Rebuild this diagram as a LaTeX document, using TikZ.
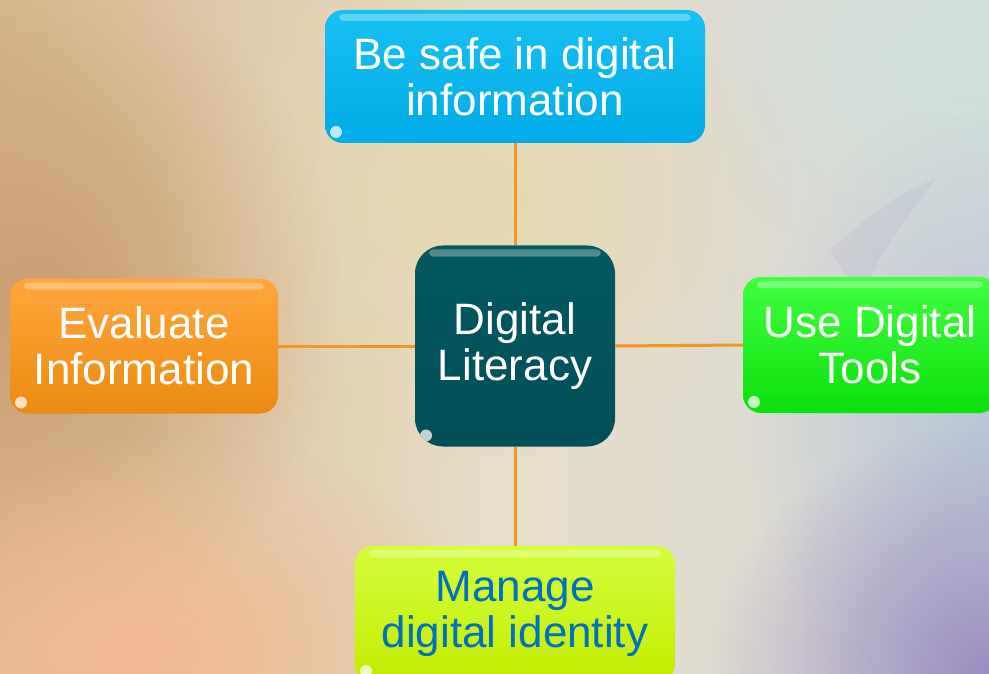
\documentclass[tikz,border=0pt]{standalone}
\usepackage{fontspec}
\setmainfont{Liberation Sans}
\usetikzlibrary{fadings}
\tikzfading[name=softblob, inner color=transparent!0, outer color=transparent!100]
\definecolor{bgL}{HTML}{D8B890}
\definecolor{bgM}{HTML}{E8DEC8}
\definecolor{bgR}{HTML}{D6DADC}
\definecolor{tanD}{HTML}{CA9E74}
\definecolor{peach}{HTML}{F2BA94}
\definecolor{lilac}{HTML}{9A8CC0}
\definecolor{bluey}{HTML}{B8C6D6}
\definecolor{mint}{HTML}{D2E2DC}
\definecolor{creamY}{HTML}{E6D8B0}
\definecolor{lineO}{HTML}{F39426}
\definecolor{cyanT}{HTML}{18C0F2}
\definecolor{cyanB}{HTML}{00ACE8}
\definecolor{tealT}{HTML}{04585F}
\definecolor{tealB}{HTML}{014F59}
\definecolor{orT}{HTML}{FFA63C}
\definecolor{orB}{HTML}{EC8A10}
\definecolor{grT}{HTML}{40FF40}
\definecolor{grB}{HTML}{0CE00C}
\definecolor{ygT}{HTML}{D4FF3C}
\definecolor{ygB}{HTML}{C2EC00}
\definecolor{blueTx}{HTML}{0070C0}
\tikzset{
  box/.style={rectangle, rounded corners=18pt, align=center, text=white,
    font=\fontsize{44}{46}\selectfont, inner sep=0pt,
    path picture={
      \fill[white,opacity=0.3,rounded corners=4pt]
        ([xshift=14pt,yshift=-4pt]path picture bounding box.north west)
        rectangle ([xshift=-14pt,yshift=-11pt]path picture bounding box.north east);
      \fill[white,opacity=0.75]
        ([xshift=11pt,yshift=11pt]path picture bounding box.south west) circle (6pt);
    }},
  conn/.style={draw=lineO, line width=3pt}
}
\begin{document}
\begin{tikzpicture}[x=1pt,y=-1pt]
\useasboundingbox (0,0) rectangle (989,674);
\begin{scope}
\clip (0,0) rectangle (989,674);
% background
\shade[left color=bgL, right color=bgR, middle color=bgM] (0,0) rectangle (989,674);
\fill[creamY, path fading=softblob] (470,200) ellipse (320 and 260);
\fill[tanD, path fading=softblob] (40,300) ellipse (300 and 340);
\fill[peach, path fading=softblob] (140,650) ellipse (360 and 220);
\fill[mint, path fading=softblob] (960,60) ellipse (280 and 220);
\fill[bluey, path fading=softblob] (989,420) ellipse (240 and 320);
\fill[lilac, path fading=softblob] (989,674) ellipse (280 and 250);
\fill[lilac!60!bgR, opacity=0.2] (830,250) .. controls (870,215) and (900,190) .. (935,180)
  .. controls (905,220) and (880,250) .. (860,300) -- cycle;
% boxes
\node[box, minimum width=380pt, minimum height=133pt, top color=cyanT, bottom color=cyanB]
  (safe) at (515,76.5) {Be safe in digital\\information};
\node[box, rounded corners=28pt, minimum width=200pt, minimum height=201pt, top color=tealT, bottom color=tealB]
  (core) at (515,346) {Digital\\Literacy};
\node[box, minimum width=268pt, minimum height=135pt, top color=orT, bottom color=orB]
  (eval) at (144,346) {Evaluate\\Information};
\node[box, minimum width=254pt, minimum height=136pt, top color=grT, bottom color=grB]
  (tools) at (870,345) {Use Digital\\Tools};
\node[box, text=blueTx, minimum width=320pt, minimum height=136pt, top color=ygT, bottom color=ygB]
  (ident) at (515,614) {Manage\\digital identity};
% connectors
\draw[conn] (safe.south) -- (core.north);
\draw[conn] (eval.east) -- (core.west);
\draw[conn] (core.east) -- (tools.west);
\draw[conn] (core.south) -- (ident.north);
\end{scope}
\end{tikzpicture}
\end{document}
